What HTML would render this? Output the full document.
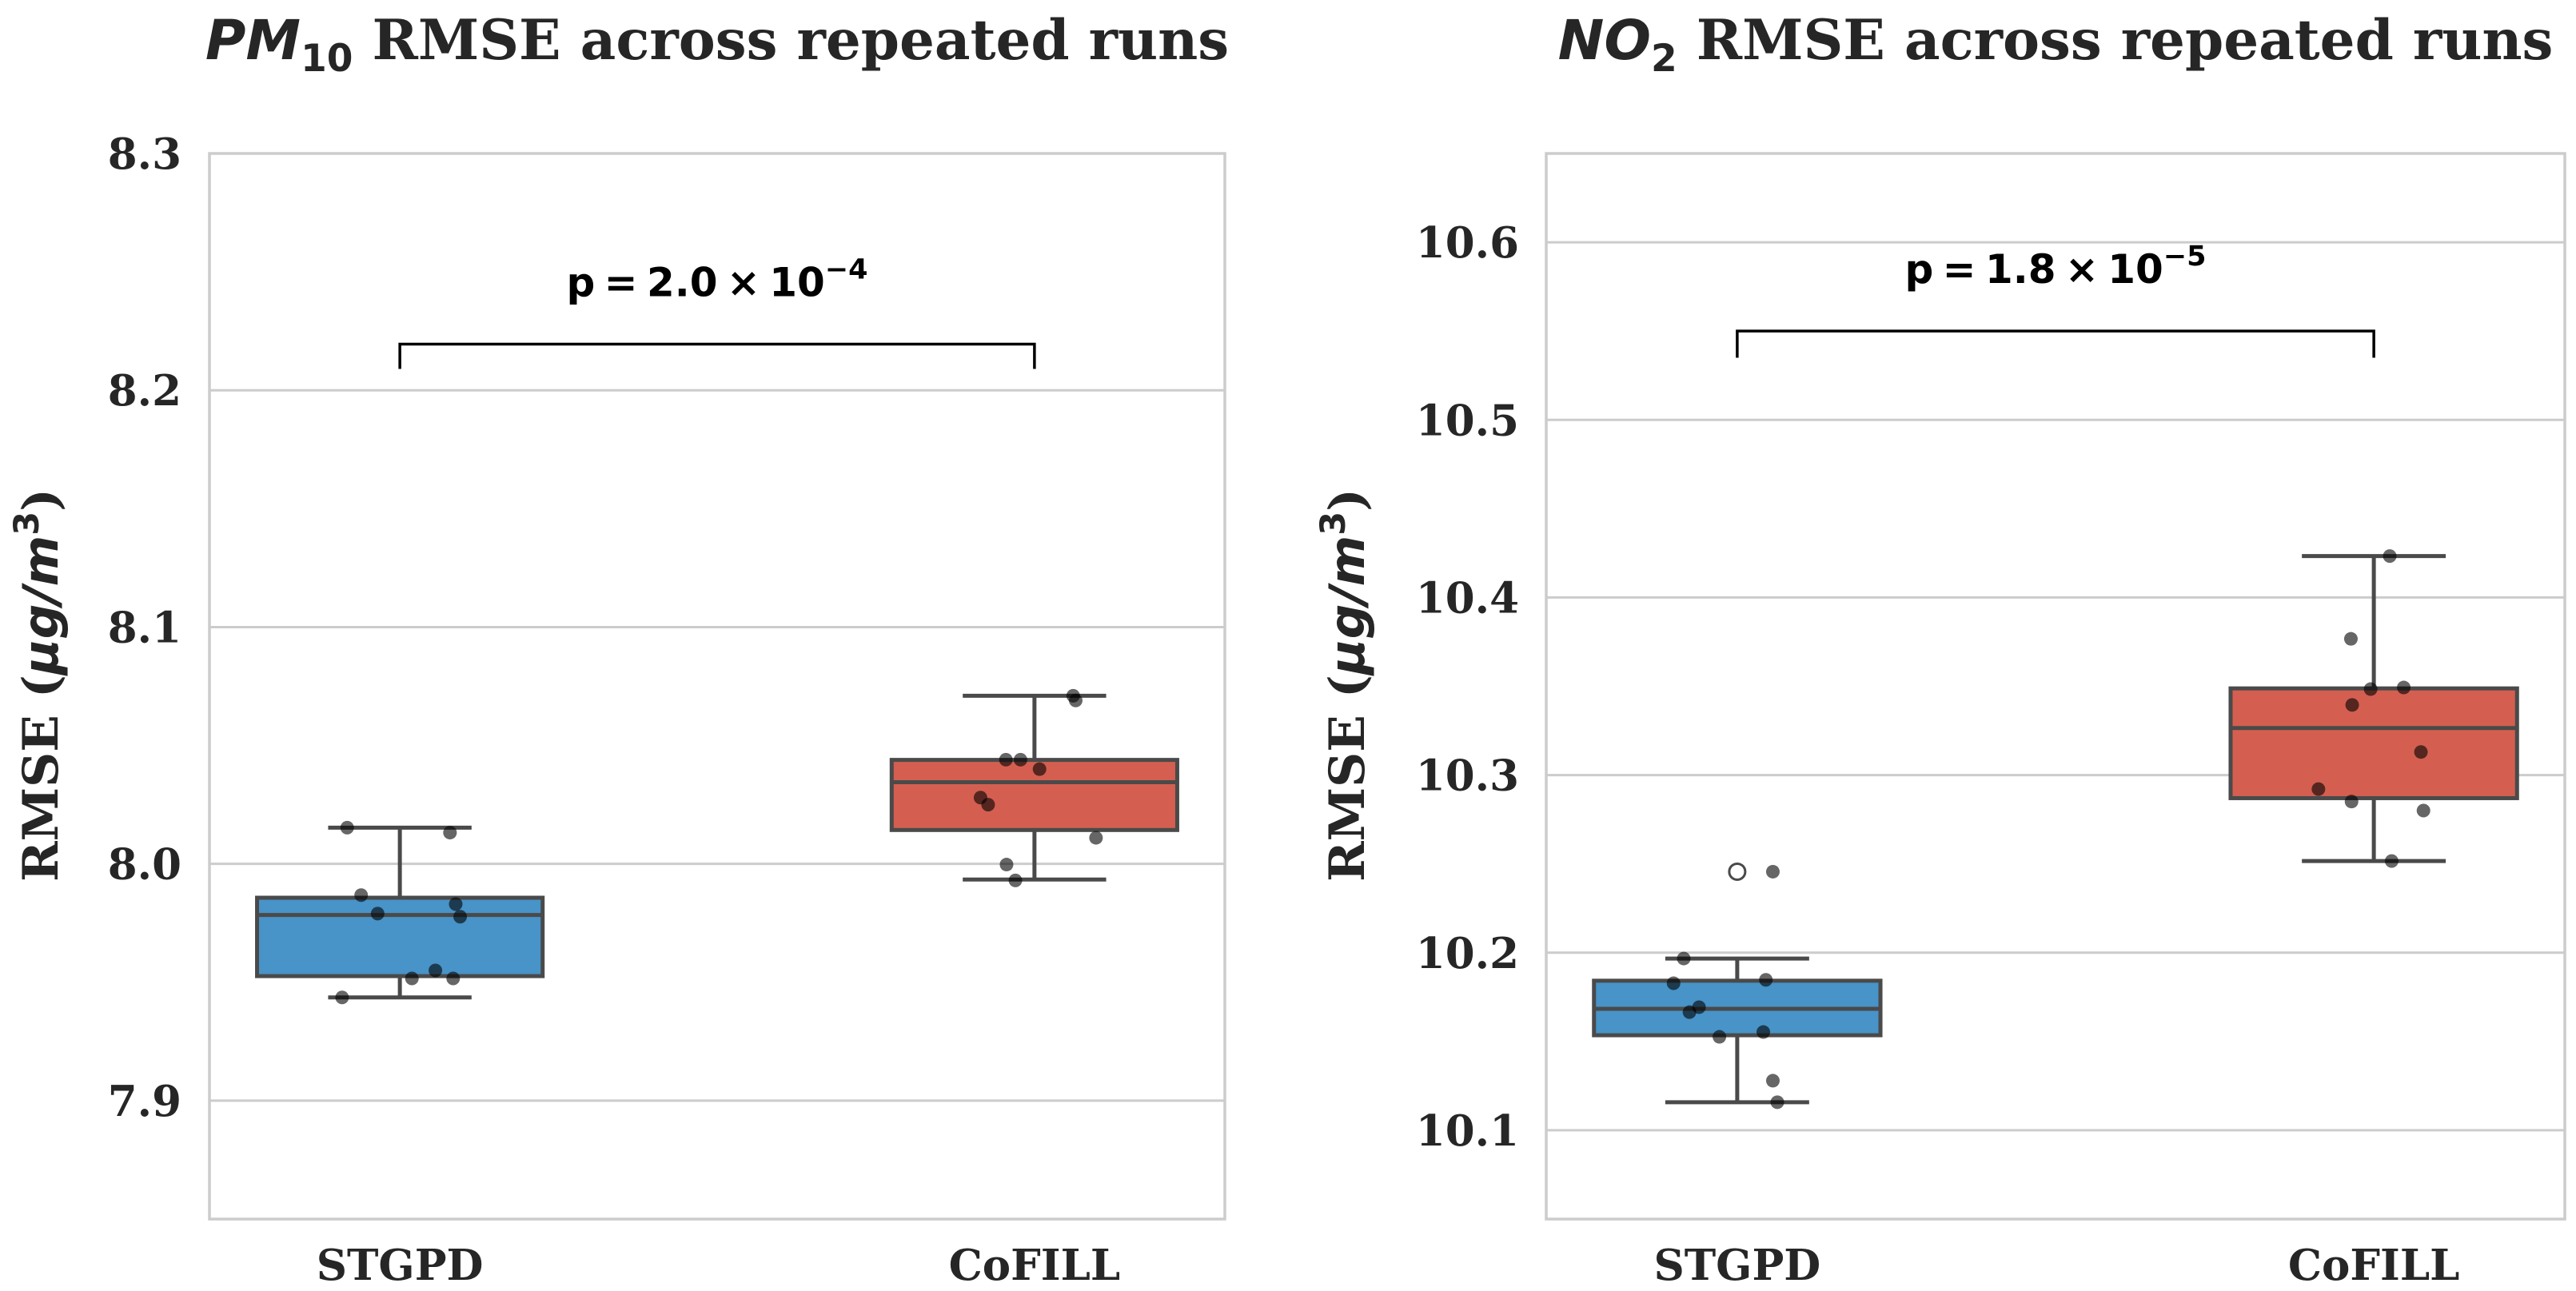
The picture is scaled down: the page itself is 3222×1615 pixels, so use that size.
<!DOCTYPE html>
<html><head><meta charset="utf-8"><style>
html,body{margin:0;padding:0;background:#fff;}
svg{display:block;}
</style></head><body>
<svg id="chart" width="3222" height="1615" viewBox="0 0 3222 1615" xmlns="http://www.w3.org/2000/svg"></svg>
<script>
const categories = ["STGPD", "CoFILL"];
// PM10 data
const pm10Ticks = [7.9, 8.0, 8.1, 8.2, 8.3];
const pm10Boxes = [[7.9436, 7.9526, 7.9784, 7.9857, 8.0153],[7.9934, 8.0143, 8.0345, 8.0439, 8.071]];
const pm10StgpdPts = [8.0153, 8.0132, 7.9868, 7.979, 7.983, 7.9777, 7.955, 7.9516, 7.9516, 7.9436];
const pm10StgpdJit = [-0.083, 0.079, -0.061, -0.035, 0.088, 0.095, 0.056, 0.019, 0.084, -0.091];
const pm10CofillPts = [8.071, 8.069, 8.044, 8.044, 8.040, 8.028, 8.025, 8.011, 7.9997, 7.993];
const pm10CofillJit = [0.061, 0.065, -0.045, -0.022, 0.008, -0.085, -0.073, 0.097, -0.044, -0.030];
const pm10Outliers = [[], []];
// NO2 data
const no2Ticks = [10.1, 10.2, 10.3, 10.4, 10.5, 10.6];
const no2Boxes = [[10.1158, 10.1535, 10.1684, 10.1842, 10.1967],[10.2516, 10.287, 10.3265, 10.3488, 10.4233]];
const no2StgpdPts = [10.2456, 10.1967, 10.1828, 10.1847, 10.1693, 10.1665, 10.1553, 10.1526, 10.1279, 10.1158];
const no2StgpdJit = [0.056, -0.084, -0.1, 0.045, -0.06, -0.075, 0.041, -0.028, 0.056, 0.063];
const no2CofillPts = [10.4233, 10.3767, 10.3484, 10.3493, 10.3395, 10.313, 10.2921, 10.2851, 10.28, 10.2516];
const no2CofillJit = [0.025, -0.036, -0.005, 0.047, -0.034, 0.074, -0.087, -0.035, 0.078, 0.028];
const no2Outliers = [[10.2456], []];

const NS = "http://www.w3.org/2000/svg";
const svg = document.getElementById("chart");
function mk(tag, attrs, parent, text) {
  const e = document.createElementNS(NS, tag);
  for (const k in attrs) e.setAttribute(k, attrs[k]);
  if (text !== undefined) e.textContent = text;
  (parent || svg).appendChild(e);
  return e;
}
const colors = ["#4893c8", "#d45f50"];

function panel(o) {
  const g = mk("g", {});
  
  
  const L = o.left, R = o.right, T = 192, B = 1525;
  const y = v => T + (o.ymax - v) / (o.ymax - o.ymin) * (B - T);
  const x = c => L + (c + 0.3) / 1.6 * (R - L);
  const step = (R - L) / 1.6;
  o.ticks.forEach(t => {
    const gl = mk("line", {x1: L, x2: R, y1: y(t), y2: y(t), stroke: "#cccccc", "stroke-width": 3}, g);
    
    
    const tl = mk("text", {x: o.tickX, y: y(t) + 19, "text-anchor": "end", "font-family": "DejaVu Serif, Liberation Serif, serif", "font-weight": "bold", "font-size": 53, fill: "#262626"}, g, t.toFixed(1));
    
    
  });
  const fr = mk("rect", {x: L, y: T, width: R - L, height: B - T, fill: "none", stroke: "#cccccc", "stroke-width": 3.5}, g);
  
  
  o.boxes.forEach((b, i) => {
    const cx = x(i), hw = step * 0.225, cw = step * 0.113;
    const bg = mk("g", {stroke: "#4a4a4a", "stroke-width": 5}, g);
    
    
    mk("line", {x1: cx, x2: cx, y1: y(b[0]), y2: y(b[1])}, bg);
    mk("line", {x1: cx, x2: cx, y1: y(b[3]), y2: y(b[4])}, bg);
    mk("line", {x1: cx - cw, x2: cx + cw, y1: y(b[0]), y2: y(b[0])}, bg);
    mk("line", {x1: cx - cw, x2: cx + cw, y1: y(b[4]), y2: y(b[4])}, bg);
    mk("rect", {x: cx - hw, y: y(b[3]), width: 2 * hw, height: y(b[1]) - y(b[3]), fill: colors[i]}, bg);
    mk("line", {x1: cx - hw, x2: cx + hw, y1: y(b[2]), y2: y(b[2])}, bg);
    o.outliers[i].forEach(v => {
      const oc = mk("circle", {cx: cx, cy: y(v), r: 10, fill: "#fff", stroke: "#4a4a4a", "stroke-width": 3}, g);
      
      
    });
    const xl = mk("text", {x: cx, y: 1601, "text-anchor": "middle", "font-family": "DejaVu Serif, Liberation Serif, serif", "font-weight": "bold", "font-size": 53, fill: "#262626"}, g, categories[i]);
    
    
  });
  o.pts.forEach((arr, i) => {
    arr.forEach((v, k) => {
      const p = mk("circle", {cx: x(i + o.jit[i][k]), cy: y(v), r: 8.5, fill: "#000", "fill-opacity": 0.6}, g);
      
      
    });
  });
  const by = y(o.bracket), bd = y(o.bracket - o.drop);
  const br = mk("path", {d: `M${x(0)},${bd} L${x(0)},${by} L${x(1)},${by} L${x(1)},${bd}`, fill: "none", stroke: "#000", "stroke-width": 3.5}, g);
  
  
  const pt = mk("text", {x: (x(0) + x(1)) / 2, y: by - 60, "text-anchor": "middle", "font-family": "DejaVu Sans, Liberation Sans, sans-serif", "font-weight": "bold", "font-size": 50, fill: "#000", "word-spacing": -6}, g);
  
  
  mk("tspan", {}, pt, o.p + " \u00d7 10");
  mk("tspan", {dy: -22, "font-size": 35}, pt, o.exp);
  const tt = mk("text", {x: (L + R) / 2, y: 74, "text-anchor": "middle", "font-family": "DejaVu Serif, Liberation Serif, serif", "font-weight": "bold", "font-size": 69, fill: "#262626"}, g);
  
  
  mk("tspan", {"font-family": "DejaVu Sans, sans-serif", "font-style": "italic"}, tt, o.sp);
  mk("tspan", {"font-family": "DejaVu Sans, sans-serif", "font-size": 47, dy: 15}, tt, o.sub);
  mk("tspan", {dy: -15}, tt, " RMSE across repeated runs");
  const yl = mk("text", {x: 0, y: 0, transform: `translate(${o.ylabX},857) rotate(-90)`, "text-anchor": "middle", "font-family": "DejaVu Serif, Liberation Serif, serif", "font-weight": "bold", "font-size": 61, fill: "#262626"}, g);
  
  
  mk("tspan", {}, yl, "RMSE (");
  mk("tspan", {"font-family": "DejaVu Sans, sans-serif", "font-style": "italic"}, yl, "\u03bcg/m");
  mk("tspan", {"font-family": "DejaVu Sans, sans-serif", "font-size": 43, dy: -24}, yl, "3");
  mk("tspan", {dy: 24}, yl, ")");
}

panel({name: "pm10-panel", left: 262, right: 1532, ymin: 7.85, ymax: 8.3, ticks: pm10Ticks, tickX: 227, ylabX: 72,
  boxes: pm10Boxes, pts: [pm10StgpdPts, pm10CofillPts], jit: [pm10StgpdJit, pm10CofillJit], outliers: pm10Outliers,
  bracket: 8.2195, drop: 0.0105, p: "p = 2.0", exp: "\u22124", sp: "PM", sub: "10"});
panel({name: "no2-panel", left: 1934, right: 3208, ymin: 10.05, ymax: 10.65, ticks: no2Ticks, tickX: 1900, ylabX: 1706,
  boxes: no2Boxes, pts: [no2StgpdPts, no2CofillPts], jit: [no2StgpdJit, no2CofillJit], outliers: no2Outliers,
  bracket: 10.55, drop: 0.015, p: "p = 1.8", exp: "\u22125", sp: "NO", sub: "2"});
</script>
</body></html>
